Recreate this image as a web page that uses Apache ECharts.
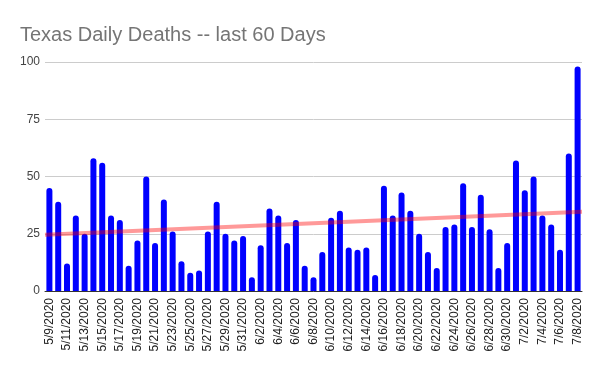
<!DOCTYPE html>
<html>
<head>
<meta charset="utf-8">
<script src="https://cdn.jsdelivr.net/npm/echarts@6/dist/echarts.min.js"></script>
<style>html,body{margin:0;padding:0;background:#fff;}#c{width:600px;height:371px;}</style>
</head>
<body>
<div id="c"></div>
<script>
const categories = ["5/9/2020","5/10/2020","5/11/2020","5/12/2020","5/13/2020","5/14/2020","5/15/2020","5/16/2020","5/17/2020","5/18/2020",
"5/19/2020","5/20/2020","5/21/2020","5/22/2020","5/23/2020","5/24/2020","5/25/2020","5/26/2020","5/27/2020","5/28/2020",
"5/29/2020","5/30/2020","5/31/2020","6/1/2020","6/2/2020","6/3/2020","6/4/2020","6/5/2020","6/6/2020","6/7/2020",
"6/8/2020","6/9/2020","6/10/2020","6/11/2020","6/12/2020","6/13/2020","6/14/2020","6/15/2020","6/16/2020","6/17/2020",
"6/18/2020","6/19/2020","6/20/2020","6/21/2020","6/22/2020","6/23/2020","6/24/2020","6/25/2020","6/26/2020","6/27/2020",
"6/28/2020","6/29/2020","6/30/2020","7/1/2020","7/2/2020","7/3/2020","7/4/2020","7/5/2020","7/6/2020","7/7/2020","7/8/2020"];
const deaths = [45,39,12,33,25,58,56,33,31,11,
22,50,21,40,26,13,8,9,26,39,
25,22,24,6,20,36,33,21,31,11,
6,17,32,35,19,18,19,7,46,33,
43,35,25,17,10,28,29,47,28,42,
27,10,21,57,44,50,33,29,18,60,98];
const trendEnds = [24.6, 34.6];
const yTicks = [0, 25, 50, 75, 100];

const chart = echarts.init(document.getElementById('c'), null, {renderer: 'canvas'});
chart.setOption({
  animation: false,
  backgroundColor: '#ffffff',
  title: {
    text: 'Texas Daily Deaths -- last 60 Days',
    left: 15, top: 20,
    textStyle: {fontFamily: 'Liberation Sans, Arial, sans-serif', fontSize: 20, fontWeight: 'normal', color: '#757575'}
  },
  grid: {left: 45, right: 18, top: 62, bottom: 80, containLabel: false},
  xAxis: [{
    type: 'category',
    data: categories,
    axisLine: {lineStyle: {color: '#333', width: 1}},
    axisTick: {show: false},
    axisLabel: {rotate: 90, interval: 1, fontFamily: 'Liberation Sans, Arial, sans-serif', fontSize: 12, color: '#222', margin: 7}
  }, {
    type: 'value', min: 0, max: 1, show: false
  }],
  yAxis: {
    type: 'value', min: yTicks[0], max: yTicks[yTicks.length-1], interval: 25,
    axisLine: {show: false}, axisTick: {show: false},
    splitLine: {lineStyle: {color: '#cccccc', width: 1}},
    axisLabel: {margin: 5, fontFamily: 'Liberation Sans, Arial, sans-serif', fontSize: 12, color: '#444'}
  },
  series: [{
    type: 'bar',
    data: deaths,
    barWidth: 6,
    itemStyle: {color: '#0000ff', borderRadius: [3,3,0,0]}
  }, {
    type: 'line',
    xAxisIndex: 1,
    data: [[0, trendEnds[0]], [1, trendEnds[1]]],
    symbol: 'none',
    lineStyle: {color: 'rgba(255,0,0,0.4)', width: 4},
    z: 5
  }]
});
</script>
</body>
</html>
